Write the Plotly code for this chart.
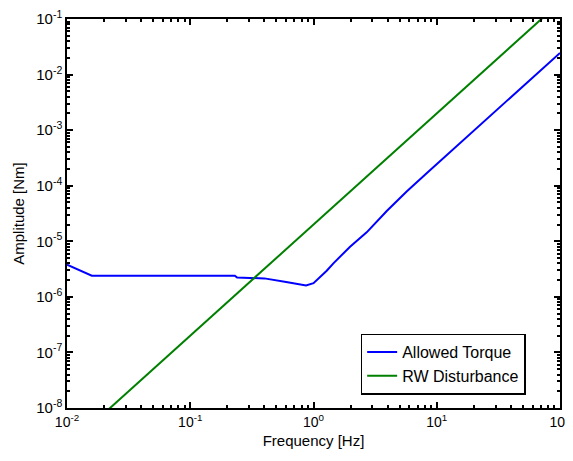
import plotly.graph_objects as go

# Allowed torque (blue)
freq_allowed = [0.01, 0.0159, 0.05, 0.1, 0.23, 0.24, 0.4, 0.6, 0.87, 1.0, 1.06, 1.13, 1.28,
                1.45, 1.59, 1.98, 2.7, 3.93, 5.7, 8.28, 100]
amp_allowed = [3.8e-6, 2.4e-6, 2.4e-6, 2.4e-6, 2.4e-6, 2.22e-6, 2.15e-6, 1.85e-6, 1.6e-6,
               1.76e-6, 1.97e-6, 2.3e-6, 2.95e-6, 4.0e-6, 4.9e-6, 8.0e-6, 1.45e-5, 3.5e-5,
               7.85e-5, 1.68e-4, 2.45e-2]

# RW disturbance (green)
freq_rw = [0.01, 0.1, 1, 10, 100]
amp_rw = [2e-9, 2e-7, 2e-5, 2e-3, 2e-1]

x_tickvals = [0.01, 0.1, 1, 10, 100]
x_ticktext = ["10<sup>-2</sup>", "10<sup>-1</sup>", "10<sup>0</sup>", "10<sup>1</sup>", "10<sup>2</sup>"]
y_tickvals = [1e-8, 1e-7, 1e-6, 1e-5, 1e-4, 1e-3, 1e-2, 1e-1]
y_ticktext = ["10<sup>-8</sup>", "10<sup>-7</sup>", "10<sup>-6</sup>", "10<sup>-5</sup>",
              "10<sup>-4</sup>", "10<sup>-3</sup>", "10<sup>-2</sup>", "10<sup>-1</sup>"]

x_minor = [m * d for d in x_tickvals[:-1] for m in range(2, 10)]
y_minor = [m * d for d in y_tickvals[:-1] for m in range(2, 10)]

FONT = "Liberation Sans, Arial, sans-serif"

fig = go.Figure()
fig.add_trace(go.Scatter(x=freq_allowed, y=amp_allowed, mode="lines", name="Allowed Torque",
                         line=dict(color="#0000FF", width=2)))
fig.add_trace(go.Scatter(x=freq_rw, y=amp_rw, mode="lines", name="RW Disturbance",
                         line=dict(color="#008000", width=2)))

axis_common = dict(
    type="log", showgrid=False, zeroline=False, automargin=False,
    showline=True, linecolor="black", linewidth=1.5, mirror="ticks",
    ticks="inside", ticklen=6, tickcolor="black", tickwidth=1.5,
    ticklabeloverflow="allow",
)

fig.update_xaxes(**axis_common, range=[-2, 2], tickmode="array",
                 tickvals=x_tickvals, ticktext=x_ticktext,
                 tickfont=dict(family=FONT, size=14, color="black"),
                 minor=dict(ticks="inside", ticklen=3, tickcolor="black", tickwidth=1.5,
                            tickmode="array", tickvals=x_minor, showgrid=False),
                 title=dict(text="Frequency [Hz]", standoff=7,
                            font=dict(family=FONT, size=15, color="black")))
fig.update_yaxes(**axis_common, range=[-8, -1], tickmode="array",
                 tickvals=y_tickvals, ticktext=y_ticktext,
                 tickfont=dict(family=FONT, size=15, color="black"),
                 minor=dict(ticks="inside", ticklen=3, tickcolor="black", tickwidth=1.5,
                            tickmode="array", tickvals=y_minor, showgrid=False),
                 title=dict(text="Amplitude [Nm]", standoff=8,
                            font=dict(family=FONT, size=15, color="black")))

# page body adds an 8px offset, so the figure is 8px smaller than the window
fig.update_layout(
    width=565, height=453,
    margin=dict(l=59, r=13, t=11, b=53),
    paper_bgcolor="white", plot_bgcolor="white",
    font=dict(family=FONT, size=14, color="black"),
    legend=dict(x=0.763, y=0.113, xanchor="center", yanchor="middle",
                bgcolor="white", bordercolor="black", borderwidth=1.5,
                font=dict(family=FONT, size=16), tracegroupgap=0, itemwidth=30),
    showlegend=True,
)

fig.write_html("out.html")
